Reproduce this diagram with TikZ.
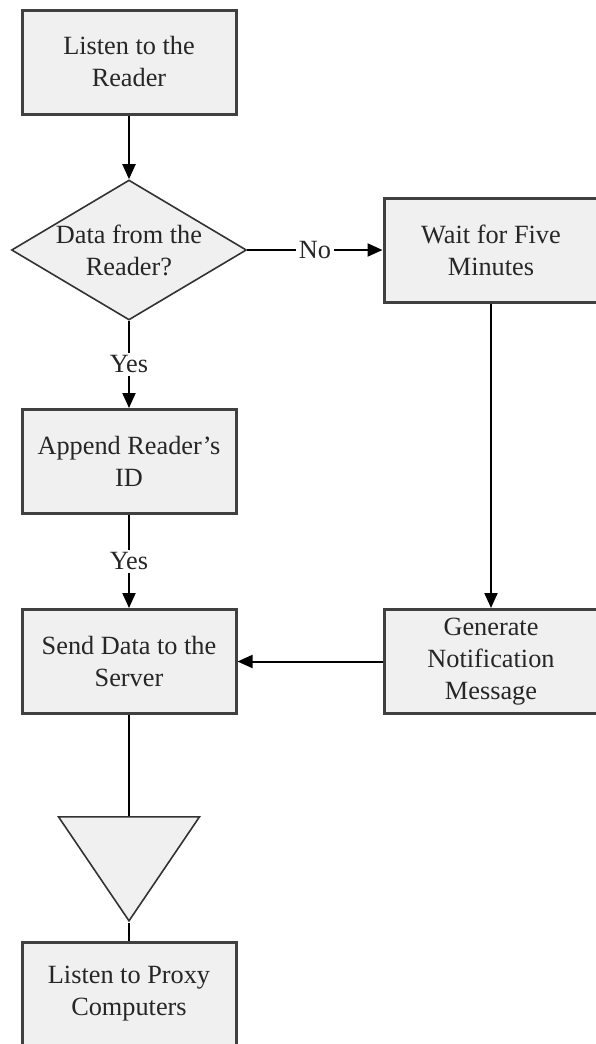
\documentclass[tikz,border=0pt]{standalone}
\usepackage{fontspec}
\setmainfont{Liberation Serif}
\usetikzlibrary{shapes.geometric,arrows.meta}
\begin{document}
\begin{tikzpicture}[x=1pt, y=-1pt, >={Triangle[length=15pt,width=13pt]},
	font=\fontsize{26.3}{32}\selectfont,
	box/.style={draw=black!75, line width=3pt, fill=boxfill, minimum width=214pt,
		minimum height=104pt, inner sep=0pt, align=center, text=black!85},
	decision/.style={diamond, draw=black!80, line width=1.6pt, fill=boxfill,
		minimum width=235pt, minimum height=140pt, inner sep=0pt},
	merge/.style={isosceles triangle, isosceles triangle stretches, shape border rotate=-90,
		draw=black!80, line width=1.6pt, fill=boxfill, minimum width=141pt,
		minimum height=104pt, inner sep=0pt},
	flow/.style={line width=2pt, black},
	tag/.style={fill=white, inner sep=3pt, text=black!85}]
	\definecolor{boxfill}{RGB}{240, 240, 240}
	
	% 画布范围
	\useasboundingbox (0,0) rectangle (596,1044);
	
	% 左列
	\node[box] (listen) at (129,62) {Listen to the\\Reader};
	\node[decision, label={[align=center, text=black!85]center:Data from the\\Reader?}] (query) at (129,250) {};
	\node[box] (append) at (129,461.5) {Append Reader's\\ID};
	\node[box] (send) at (129,661.5) {Send Data to the\\Server};
	\node[merge, anchor=north] (merge) at (129,816) {};
	\node[box] (proxy) at (129,994) {Listen to Proxy\\Computers};
	
	% 右列
	\node[box] (wait) at (491,250) {Wait for Five\\Minutes};
	\node[box] (notify) at (491,661.5) {Generate\\Notification\\Message};
	
	% 连线
	\draw[flow, ->] (listen) -- (query);
	\draw[flow, ->] (query) -- node[tag] {No} (wait);
	\draw[flow, ->] (query) -- node[tag] {Yes} (append);
	\draw[flow, ->] (append) -- node[tag] {Yes} (send);
	\draw[flow, ->] (wait) -- (notify);
	\draw[flow, ->] (notify) -- (send);
	\draw[flow] (send) -- (merge.north);
	\draw[flow] (merge.south) -- (proxy);
\end{tikzpicture}
\end{document}
